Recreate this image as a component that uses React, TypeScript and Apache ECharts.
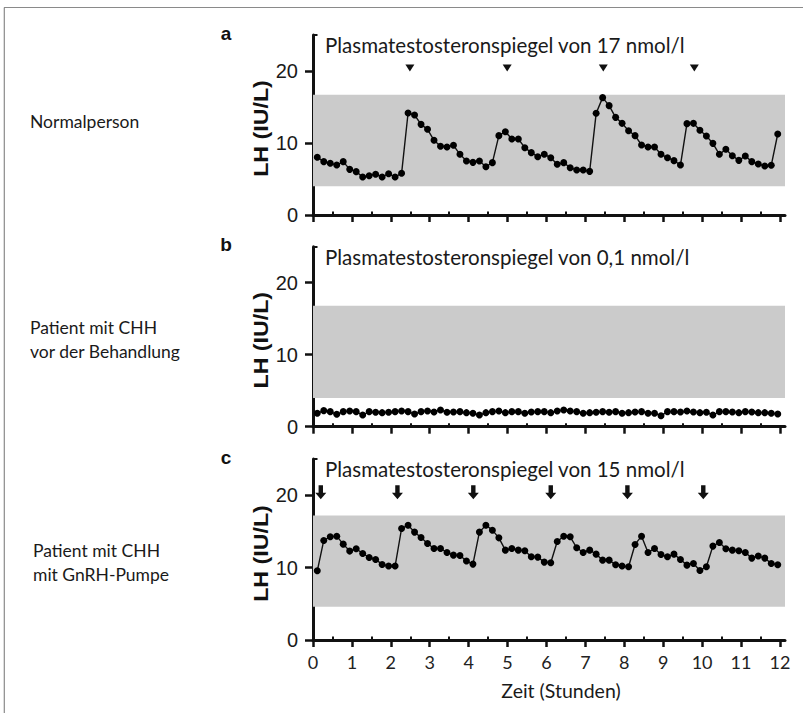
import React, { useEffect, useRef } from "react";
import * as echarts from "echarts";

// sampling: first sample at 0.11 h, then every 10 minutes
const T0 = 0.11;
const STEP = 1 / 6;

const lhNormal = [
  8.01, 7.41, 7.18, 6.94, 7.41, 6.34, 6.02, 5.28, 5.46, 5.65,
  5.28, 5.74, 5.28, 5.79, 14.17, 13.89, 12.59, 11.9, 10.37, 9.54,
  9.44, 9.68, 8.43, 7.5, 7.31, 7.5, 6.71, 7.27, 11.02, 11.57,
  10.56, 10.56, 9.35, 8.66, 8.1, 8.43, 7.96, 7.04, 7.27, 6.57,
  6.25, 6.25, 6.06, 14.12, 16.3, 15.19, 13.56, 12.73, 11.71, 11.02,
  9.72, 9.44, 9.44, 8.43, 7.96, 7.55, 6.94, 12.69, 12.73, 11.76,
  10.97, 9.95, 8.43, 9.12, 8.24, 7.59, 8.19, 7.41, 7.08, 6.81,
  6.9, 11.25,
];

const lhUntreated = [
  1.86, 2.23, 2.09, 1.72, 2.09, 2.18, 2.09, 1.62, 2.09, 2.0,
  1.95, 2.0, 2.09, 2.18, 2.09, 1.77, 2.09, 2.18, 2.05, 2.32,
  2.0, 2.05, 2.09, 1.95, 1.86, 1.62, 1.95, 2.09, 2.18, 1.95,
  2.09, 2.09, 1.86, 2.05, 2.09, 2.09, 1.95, 2.18, 2.32, 2.18,
  2.09, 1.86, 1.95, 2.0, 2.09, 2.0, 2.09, 1.86, 1.95, 2.05,
  2.09, 1.86, 1.86, 1.53, 2.09, 2.09, 2.05, 2.18, 2.05, 1.95,
  2.0, 1.62, 2.09, 2.09, 2.05, 1.95, 2.09, 2.05, 1.95, 1.95,
  1.86, 1.77,
];

const lhPump = [
  9.56, 13.75, 14.25, 14.34, 13.24, 12.28, 12.6, 11.95, 11.4, 11.13,
  10.44, 10.21, 10.21, 15.4, 15.86, 14.9, 14.16, 13.33, 12.64, 12.64,
  12.09, 11.72, 11.68, 10.9, 10.48, 14.9, 15.86, 15.17, 14.11, 12.41,
  12.64, 12.41, 12.32, 11.49, 11.45, 10.76, 10.67, 13.61, 14.34, 14.25,
  12.74, 12.09, 12.41, 11.86, 11.03, 11.03, 10.39, 10.21, 10.11, 13.2,
  14.34, 12.09, 12.64, 11.82, 11.49, 11.86, 11.13, 10.34, 10.57, 9.61,
  10.11, 12.97, 13.47, 12.6, 12.41, 12.32, 12.09, 11.31, 11.59, 11.31,
  10.57, 10.39,
];

const pulsesNormal = [2.49, 4.99, 7.46, 9.8];
const pulsesPump = [0.2, 2.17, 4.12, 6.11, 8.08, 10.03];
const markerLevel = 20.4;

const bandNormal = [4.0, 16.7];
const bandUntreated = [4.0, 16.8];
const bandPump = [4.6, 17.2];

const xMajorTicks = [0, 1, 2, 3, 4, 5, 6, 7, 8, 9, 10, 11, 12];
const xMinorTicks = [0.5, 1.5, 2.5, 3.5, 4.5, 5.5, 6.5, 7.5, 8.5, 9.5, 10.5, 11.5];
const yMajorTicks = [0, 10, 20];
const yMinorTicks = [5, 15, 25];

const panelLetters = ["a", "b", "c"];
const panelTitles = [
  "Plasmatestosteronspiegel von 17 nmol/l",
  "Plasmatestosteronspiegel von 0,1 nmol/l",
  "Plasmatestosteronspiegel von 15 nmol/l",
];
const rowLabels = [
  ["Normalperson"],
  ["Patient mit CHH", "vor der Behandlung"],
  ["Patient mit CHH", "mit GnRH-Pumpe"],
];
const yName = "LH (IU/L)";
const xName = "Zeit (Stunden)";

const X_MAX = 12.13;
const Y_MAX = 25;

const TRIANGLE = "path://M0,0 L10,0 L5,8 Z";
const ARROW = "path://M3,0 L7,0 L7,7 L10,7 L5,13 L0,7 L3,7 Z";

const panels = [
  { top: 35, height: 180, values: lhNormal, band: bandNormal, pulses: pulsesNormal, symbol: TRIANGLE, size: [9, 7] },
  { top: 246.7, height: 180, values: lhUntreated, band: bandUntreated, pulses: [] as number[], symbol: TRIANGLE, size: [9, 7] },
  { top: 459, height: 181, values: lhPump, band: bandPump, pulses: pulsesPump, symbol: ARROW, size: [11, 14] },
];

const TEXT_FONT = "Lato, 'Open Sans', sans-serif";
const AXIS_FONT = "'Liberation Sans', Arial, sans-serif";

export default function App() {
  const ref = useRef<HTMLDivElement>(null);

  useEffect(() => {
    if (!ref.current) return;
    const chart = echarts.init(ref.current, null, { renderer: "svg" });

    const grids: any[] = [];
    const xAxes: any[] = [];
    const yAxes: any[] = [];
    const series: any[] = [];
    const graphics: any[] = [];

    panels.forEach((p, i) => {
      grids.push({ left: 313, width: 472, top: p.top, height: p.height });
      const isLast = i === panels.length - 1;
      // main x axis (integer ticks)
      xAxes.push({
        type: "value", gridIndex: i, min: 0, max: X_MAX,
        axisLine: { show: true, lineStyle: { color: "#111", width: 3 } },
        axisTick: { show: true, customValues: xMajorTicks, length: 7, lineStyle: { color: "#111", width: 2.5 } },
        axisLabel: {
          show: isLast, customValues: xMajorTicks, margin: 13,
          fontFamily: TEXT_FONT, fontSize: 18, color: "#222",
        },
        splitLine: { show: false },
      });
      // half-hour ticks
      xAxes.push({
        type: "value", gridIndex: i, min: 0, max: X_MAX,
        axisLine: { show: false },
        axisTick: { show: true, customValues: xMinorTicks, length: 3.5, lineStyle: { color: "#111", width: 2 } },
        axisLabel: { show: false },
        splitLine: { show: false },
      });
      yAxes.push({
        type: "value", gridIndex: i, min: 0, max: Y_MAX,
        axisLine: { show: true, lineStyle: { color: "#111", width: 3 } },
        axisTick: { show: true, customValues: yMajorTicks, length: 8, lineStyle: { color: "#111", width: 2.5 } },
        axisLabel: {
          show: true, customValues: yMajorTicks, margin: 15,
          fontFamily: AXIS_FONT, fontSize: 20, color: "#1a1a1a",
        },
        splitLine: { show: false },
      });
      yAxes.push({
        type: "value", gridIndex: i, min: 0, max: Y_MAX,
        axisLine: { show: false },
        axisTick: { show: true, customValues: yMinorTicks, length: 4.5, lineStyle: { color: "#111", width: 2 } },
        axisLabel: { show: false },
        splitLine: { show: false },
      });

      series.push({
        type: "line",
        xAxisIndex: i * 2, yAxisIndex: i * 2,
        data: p.values.map((v, k) => [T0 + k * STEP, v]),
        symbol: "circle", symbolSize: 7, showSymbol: true,
        itemStyle: { color: "#000", opacity: 1 },
        lineStyle: { color: "#111", width: 1.4 },
        z: 3,
        markArea: {
          silent: true,
          itemStyle: { color: "#cbcbcb", opacity: 1 },
          data: [[{ yAxis: p.band[0] }, { yAxis: p.band[1] }]],
        },
      });
      if (p.pulses.length) {
        series.push({
          type: "scatter",
          xAxisIndex: i * 2, yAxisIndex: i * 2,
          data: p.pulses.map((t) => [t, markerLevel]),
          symbol: p.symbol, symbolSize: p.size,
          itemStyle: { color: "#111", opacity: 1 },
          z: 4,
        });
      }

      const zeroY = p.top + p.height;
      // panel letter
      graphics.push({
        type: "text", x: 226, y: p.top - 2,
        style: {
          text: panelLetters[i], font: `bold 19px ${AXIS_FONT}`, fill: "#111",
          align: "center", verticalAlign: "middle", textAlign: "center", textVerticalAlign: "middle",
        },
      });
      // panel title
      graphics.push({
        type: "text", x: 325, y: p.top + 10,
        style: {
          text: panelTitles[i], font: `20.5px ${TEXT_FONT}`, fill: "#1a1a1a",
          align: "left", verticalAlign: "middle", textAlign: "left", textVerticalAlign: "middle",
        },
      });
      // y axis name (rotated)
      graphics.push({
        type: "text", x: 261, y: zeroY - 86.5, rotation: Math.PI / 2, scaleX: 1.16,
        style: {
          text: yName, font: `bold 20px ${AXIS_FONT}`, fill: "#111",
          align: "center", verticalAlign: "middle", textAlign: "center", textVerticalAlign: "middle",
        },
      });
      // row labels
      const lines = rowLabels[i];
      const centers = [121, 339, 562];
      lines.forEach((ln, j) => {
        graphics.push({
          type: "text", x: i === 2 ? 33 : 30, y: centers[i] + (j - (lines.length - 1) / 2) * 24,
          style: {
            text: ln, font: `17.5px ${TEXT_FONT}`, fill: "#1a1a1a",
            align: "left", verticalAlign: "middle", textAlign: "left", textVerticalAlign: "middle",
          },
        });
      });
    });

    // x axis name
    graphics.push({
      type: "text", x: 561, y: 690,
      style: {
        text: xName, font: `19.5px ${TEXT_FONT}`, fill: "#1a1a1a",
        align: "center", verticalAlign: "middle", textAlign: "center", textVerticalAlign: "middle",
      },
    });
    // frame
    graphics.push({ type: "line", shape: { x1: 4, y1: 7.5, x2: 803, y2: 7.5 }, style: { stroke: "#8a8a8a", lineWidth: 1.2 } });
    graphics.push({ type: "line", shape: { x1: 4.3, y1: 7.5, x2: 4.3, y2: 713 }, style: { stroke: "#8a8a8a", lineWidth: 1.2 } });

    chart.setOption({
      animation: false,
      backgroundColor: "#fff",
      grid: grids,
      xAxis: xAxes,
      yAxis: yAxes,
      series,
      graphic: graphics,
    });

    return () => chart.dispose();
  }, []);

  return (
    <div
      ref={ref}
      style={{ position: "fixed", left: 0, top: 0, width: 803, height: 713 }}
    />
  );
}
